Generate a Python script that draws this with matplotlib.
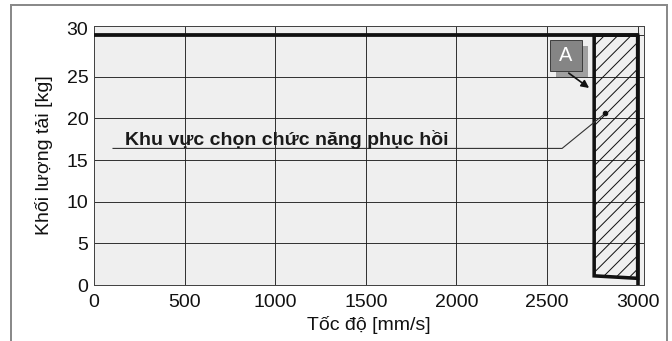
import matplotlib
matplotlib.use("Agg")
import matplotlib.pyplot as plt
from matplotlib.patches import Polygon, Rectangle
from matplotlib.lines import Line2D
from matplotlib.transforms import ScaledTranslation

plt.rcParams['font.family'] = ['Liberation Sans', 'DejaVu Sans']
plt.rcParams['hatch.linewidth'] = 0.9

# data
max_speed = [0, 3000]
max_load = [30, 30]
region_x = [2760, 2760, 3000, 3000]
region_y = [30, 1.1, 0.8, 30]
edge_x = [3000, 3000]
edge_y = [30, 0]
x_ticks = [0, 500, 1000, 1500, 2000, 2500, 3000]
y_ticks = [0, 5, 10, 15, 20, 25, 30]
x_label = "Tốc độ [mm/s]"
y_label = "Khối lượng tải [kg]"
region_text = "Khu vực chọn chức năng phục hồi"
leader_x = [105, 2583, 2820]
leader_y = [16.4, 16.4, 20.6]
marker_label = "A"

DPI = 80
fig = plt.figure(figsize=(672 / DPI, 341 / DPI), dpi=DPI)
ax = fig.add_axes([94 / 672, 1 - 285 / 341, 550 / 672, 259 / 341])
ax.set_facecolor('#efefef')
ax.set_xlim(0, 3035)
ax.set_ylim(0, 31.1)
ax.set_xticks(x_ticks)
ax.set_yticks(y_ticks)
ax.grid(True, color='#1e1e1e', linewidth=0.8, zorder=1)
ax.set_axisbelow(True)
for s in ax.spines.values():
    s.set_color('#444444')
    s.set_linewidth(0.9)
ax.tick_params(length=0, labelsize=17.5, colors='#111111')
ax.tick_params(axis='x', pad=8)
ax.tick_params(axis='y', pad=5)

# move the "30" label up as in the reference
lab30 = ax.get_yticklabels()[-1]
lab30.set_transform(lab30.get_transform() + ScaledTranslation(0, 7 / DPI, fig.dpi_scale_trans))

ax.set_xlabel(x_label, fontsize=17.5, labelpad=5, color='#111111')
ax.set_ylabel(y_label, fontsize=17.5, labelpad=12, color='#111111')

# hatched region
poly = Polygon(list(zip(region_x, region_y)), closed=True, facecolor='none',
               edgecolor='#111111', hatch='//', linewidth=3.2, zorder=3, joinstyle='miter')
ax.add_patch(poly)
ax.plot(edge_x, edge_y, color='#111111', linewidth=3.2, zorder=4, solid_capstyle='butt')
ax.plot(max_speed, max_load, color='#111111', linewidth=3.4, zorder=4, solid_capstyle='butt')

# leader line and dot
ax.plot(leader_x, leader_y, color='#333333', linewidth=1.0, zorder=5)
ax.plot([leader_x[-1]], [leader_y[-1]], 'o', color='#111111', markersize=4, zorder=6)
ax.text(170, 16.3, region_text, fontsize=17.5, fontweight='bold',
        color='#1a1a1a', ha='left', va='bottom', zorder=6)

# marker A box with shadow
ax.add_patch(Rectangle((2549, 25.0), 177, 3.7, facecolor='#a0a0a0', edgecolor='none', zorder=5))
ax.add_patch(Rectangle((2516, 25.7), 177, 3.7, facecolor='#858585', edgecolor='#333333',
                       linewidth=0.8, zorder=6))
ax.text(2604, 27.55, marker_label, fontsize=18, color='white', ha='center', va='center', zorder=7)
ax.annotate('', xy=(2742, 23.5), xytext=(2610, 25.6),
            arrowprops=dict(arrowstyle='-|>', color='#111111', lw=1.5, mutation_scale=14),
            zorder=7)

# outer frame of the screenshot
fc = '#8a8a8a'
fig.add_artist(Line2D([11 / 672, 11 / 672], [0, 1 - 5 / 341], color=fc, linewidth=1.8))
fig.add_artist(Line2D([667 / 672, 667 / 672], [0, 1 - 5 / 341], color=fc, linewidth=1.8))
fig.add_artist(Line2D([11 / 672, 667 / 672], [1 - 5 / 341, 1 - 5 / 341], color=fc, linewidth=1.8))

fig.savefig('out.png', dpi=DPI)
